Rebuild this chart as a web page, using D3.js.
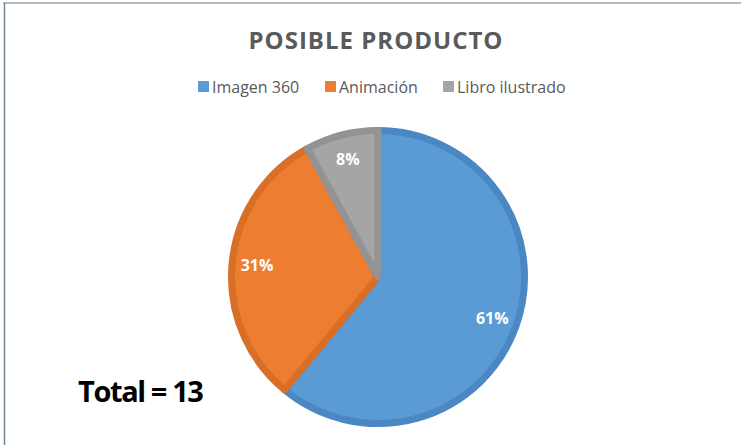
<!DOCTYPE html>
<html>
<head>
<meta charset="utf-8">
<style>
    body { margin: 0; background: #fff; }
    text { font-family: "Open Sans", sans-serif; }
</style>
</head>
<body>
<svg width="741" height="445"></svg>
<script src="https://d3js.org/d3.v7.min.js"></script>
<script>

    // data
    var categories = ["Imagen 360", "Animación", "Libro ilustrado"];
    var values = [61, 31, 8];
    var fills = ["#5b9bd5", "#ed7d31", "#a5a5a5"];
    var edges = ["#4a87c3", "#d96f27", "#939393"];
    var title = "POSIBLE PRODUCTO";
    var totalText = "Total = 13";

    var svg = d3.select("svg"),
        cx = 378, cy = 277, r = 150;

    // frame lines
    svg.append("line").attr("x1", 3).attr("x2", 741).attr("y1", 3).attr("y2", 3)
        .attr("stroke", "#9aa5ae").attr("stroke-width", 1.5);
    svg.append("line").attr("x1", 4.5).attr("x2", 4.5).attr("y1", 3).attr("y2", 445)
        .attr("stroke", "#6f8596").attr("stroke-width", 1.5);

    svg.append("text")
        .attr("x", cx - 2).attr("y", 49)
        .attr("text-anchor", "middle")
        .attr("font-size", 24).attr("font-weight", 700)
        .attr("letter-spacing", 1)
        .attr("fill", "#5a5a5a")
        .text(title);

    // legend
    var legendX = [198, 325, 443];
    var legend = svg.append("g").selectAll("g")
        .data(categories)
        .enter().append("g")
        .attr("transform", function(d, i) { return "translate(" + legendX[i] + ",81)"; });
    legend.append("rect")
        .attr("width", 11).attr("height", 11)
        .attr("fill", function(d, i) { return fills[i]; });
    legend.append("text")
        .attr("x", 14).attr("y", 11.5)
        .attr("font-size", 16)
        .attr("fill", "#595959")
        .text(function(d) { return d; });

    var pie = d3.pie().sort(null)(values);
    var arc = d3.arc().innerRadius(0).outerRadius(r - 3.5);
    var labelArc = d3.arc().innerRadius(r * 0.81).outerRadius(r * 0.81);

    var g = svg.append("g").attr("transform", "translate(" + cx + "," + cy + ")");

    g.selectAll("path")
        .data(pie)
        .enter().append("path")
        .attr("d", arc)
        .attr("fill", function(d, i) { return fills[i]; })
        .attr("stroke", function(d, i) { return edges[i]; })
        .attr("stroke-width", 7)
        .attr("stroke-linejoin", "round");

    var total = d3.sum(values);
    g.selectAll(".lbl")
        .data(pie)
        .enter().append("text")
        .attr("class", "lbl")
        .attr("transform", function(d) { return "translate(" + labelArc.centroid(d) + ")"; })
        .attr("dy", "0.35em")
        .attr("text-anchor", "middle")
        .attr("font-size", 16).attr("font-weight", 700)
        .attr("fill", "#fff")
        .text(function(d) { return Math.round(d.value / total * 100) + "%"; });

    svg.append("text")
        .attr("x", 78).attr("y", 402)
        .attr("font-family", "Inter, sans-serif")
        .attr("font-size", 29).attr("font-weight", 700)
        .attr("letter-spacing", -1.4)
        .attr("fill", "#000")
        .text(totalText);

</script>
</body>
</html>
